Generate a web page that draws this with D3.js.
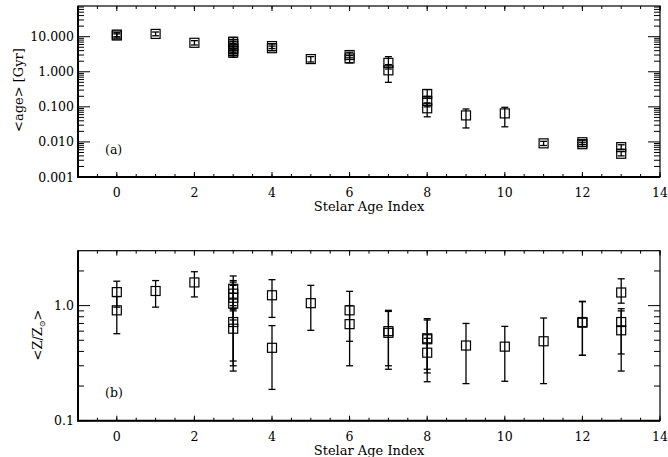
<!DOCTYPE html>
<html>
<head>
<meta charset="utf-8">
<script src="https://cdn.jsdelivr.net/npm/d3@7"></script>
<style>
  body { margin: 0; background: #fff; }
  text { font-family: "DejaVu Serif", serif; fill: #000; }
</style>
</head>
<body>
<svg id="chart" width="668" height="457"></svg>
<script>
// panel (a): mean age per stellar age index
const ageIndex = [0, 0, 1, 2, 3, 3, 3, 3, 3, 3, 4, 4, 5, 6, 6, 7, 7, 8, 8, 8, 9, 10, 11, 12, 12, 13, 13];
const ageValue = [11.5, 10.8, 12.0, 6.7, 7.2, 6.2, 5.3, 4.5, 3.9, 3.5, 5.4, 4.7, 2.3, 3.0, 2.4, 1.8, 1.1,
  0.233, 0.147, 0.091, 0.057, 0.065, 0.0091, 0.0098, 0.0086, 0.0071, 0.0046];
const ageLow = [10.0, 9.2, 10.6, 5.8, 6.0, 5.2, 4.4, 3.6, 3.0, 2.6, 4.6, 4.0, 1.9, 2.5, 1.8, 1.2, 0.5,
  0.19, 0.1, 0.052, 0.025, 0.027, 0.0079, 0.0085, 0.0075, 0.0061, 0.004];
const ageHigh = [13.0, 12.0, 13.6, 7.7, 9.5, 7.5, 6.4, 5.4, 4.6, 4.1, 6.2, 5.4, 2.7, 3.6, 2.9, 2.7, 1.6,
  0.31, 0.2, 0.13, 0.087, 0.097, 0.0104, 0.0112, 0.0098, 0.0083, 0.0054];

// panel (b): mean metallicity per stellar age index
const zIndex = [0, 0, 1, 2, 3, 3, 3, 3, 3, 3, 4, 4, 5, 6, 6, 7, 7, 8, 8, 8, 9, 10, 11, 12, 12, 13, 13, 13];
const zValue = [1.31, 0.91, 1.34, 1.59, 1.40, 1.27, 1.17, 1.04, 0.72, 0.63, 1.23, 0.43, 1.05, 0.91, 0.69,
  0.60, 0.58, 0.52, 0.51, 0.39, 0.45, 0.44, 0.49, 0.72, 0.71, 1.30, 0.72, 0.61];
const zLow = [0.97, 0.57, 0.97, 1.19, 0.93, 0.9, 0.75, 0.33, 0.27, 0.3, 0.79, 0.187, 0.61, 0.49, 0.30,
  0.30, 0.28, 0.28, 0.26, 0.218, 0.21, 0.22, 0.21, 0.37, 0.37, 1.05, 0.38, 0.27];
const zHigh = [1.63, 1.2, 1.65, 1.97, 1.81, 1.65, 1.6, 1.5, 1.0, 0.95, 1.68, 0.67, 1.5, 1.33, 1.0,
  0.91, 0.89, 0.77, 0.75, 0.52, 0.70, 0.66, 0.78, 1.09, 1.08, 1.71, 0.94, 0.9];

const xTicksMajor = [0, 2, 4, 6, 8, 10, 12, 14];
const ageTicks = [0.001, 0.01, 0.1, 1, 10];
const zTicks = [0.1, 1];

const svg = d3.select("#chart");
const left = 78, right = 660;

const x = d3.scaleLinear().domain([-1, 14]).range([left, right]);
const xMinor = d3.range(-1, 14.01, 0.5);

function minorLog(domain) {
  const out = [];
  for (let e = -4; e <= 2; e++) {
    for (let m = 2; m <= 9; m++) {
      const v = m * Math.pow(10, e);
      if (v > domain[0] && v < domain[1]) out.push(v);
    }
  }
  return out;
}

function panel(opt) {
  const { y, top, bottom, idx, val, lo, hi, majors, fmt, tag, tagY } = opt;
  const g = svg.append("g");

  // x ticks, bottom and top
  const xt = (vals, len) => {
    g.selectAll(null).data(vals).join("line")
      .attr("x1", d => x(d)).attr("x2", d => x(d))
      .attr("y1", bottom).attr("y2", bottom - len)
      .attr("stroke", "#000").attr("stroke-width", 1);
    g.selectAll(null).data(vals).join("line")
      .attr("x1", d => x(d)).attr("x2", d => x(d))
      .attr("y1", top).attr("y2", top + len)
      .attr("stroke", "#000").attr("stroke-width", 1);
  };
  xt(xMinor, 3);
  xt(xTicksMajor, 5);

  // y ticks, left and right
  const yt = (vals, len) => {
    g.selectAll(null).data(vals).join("line")
      .attr("x1", left).attr("x2", left + len)
      .attr("y1", d => y(d)).attr("y2", d => y(d))
      .attr("stroke", "#000").attr("stroke-width", 1);
    g.selectAll(null).data(vals).join("line")
      .attr("x1", right).attr("x2", right - len)
      .attr("y1", d => y(d)).attr("y2", d => y(d))
      .attr("stroke", "#000").attr("stroke-width", 1);
  };
  yt(minorLog(y.domain()), 6);
  yt(majors, 12);

  // frame
  g.append("rect").attr("x", left).attr("y", top)
    .attr("width", right - left).attr("height", bottom - top)
    .attr("fill", "none").attr("stroke", "#000").attr("stroke-width", 1.2);
  g.append("path")
    .attr("d", `M${left},${top}V${bottom}H${right}`)
    .attr("fill", "none").attr("stroke", "#000").attr("stroke-width", 2);

  // tick labels
  g.selectAll(null).data(xTicksMajor).join("text")
    .attr("x", d => x(d)).attr("y", bottom + 20)
    .attr("text-anchor", "middle").attr("font-size", 12.5)
    .text(d => d);
  g.selectAll(null).data(majors).join("text")
    .attr("x", left - 4).attr("y", d => y(d) + 4.5)
    .attr("text-anchor", "end").attr("font-size", 12.5)
    .text(d => fmt(d));

  g.append("text").attr("x", 369).attr("y", bottom + 34)
    .attr("text-anchor", "middle").attr("font-size", 13)
    .text("Stelar Age Index");

  g.append("text").attr("x", 105).attr("y", tagY)
    .attr("font-size", 12.5).text(tag);

  // error bars
  const eb = g.append("g").attr("stroke", "#000").attr("stroke-width", 1.3);
  idx.forEach((d, i) => {
    const cx = x(d);
    eb.append("line").attr("x1", cx).attr("x2", cx)
      .attr("y1", y(lo[i])).attr("y2", y(hi[i]));
    eb.append("line").attr("x1", cx - 3.5).attr("x2", cx + 3.5)
      .attr("y1", y(lo[i])).attr("y2", y(lo[i]));
    eb.append("line").attr("x1", cx - 3.5).attr("x2", cx + 3.5)
      .attr("y1", y(hi[i])).attr("y2", y(hi[i]));
  });

  // square symbols
  g.selectAll(null).data(idx).join("rect")
    .attr("x", d => x(d) - 4.5)
    .attr("y", (d, i) => y(val[i]) - 4.5)
    .attr("width", 9).attr("height", 9)
    .attr("fill", "none").attr("stroke", "#000").attr("stroke-width", 1.2);
  return g;
}

const yAge = d3.scaleLog().domain([0.001, 75]).range([177, 6]);
panel({
  y: yAge, top: 6, bottom: 177,
  idx: ageIndex, val: ageValue, lo: ageLow, hi: ageHigh,
  majors: ageTicks, fmt: d3.format(".3f"), tag: "(a)", tagY: 154
});

const yZ = d3.scaleLog().domain([0.1, 3]).range([420.7, 250.7]);
panel({
  y: yZ, top: 250.7, bottom: 420.7,
  idx: zIndex, val: zValue, lo: zLow, hi: zHigh,
  majors: zTicks, fmt: d3.format(".1f"), tag: "(b)", tagY: 397
});

// y-axis titles
svg.append("text")
  .attr("transform", "translate(23,90) rotate(-90)")
  .attr("text-anchor", "middle").attr("font-size", 13)
  .text("<age> [Gyr]");

const zt = svg.append("text")
  .attr("transform", "translate(42,335) rotate(-90)")
  .attr("text-anchor", "middle").attr("font-size", 13);
zt.append("tspan").text("<Z/Z");
zt.append("tspan").attr("font-size", 8).attr("dy", 3).text("⊙");
zt.append("tspan").attr("dy", -3).text(">");
</script>
</body>
</html>
